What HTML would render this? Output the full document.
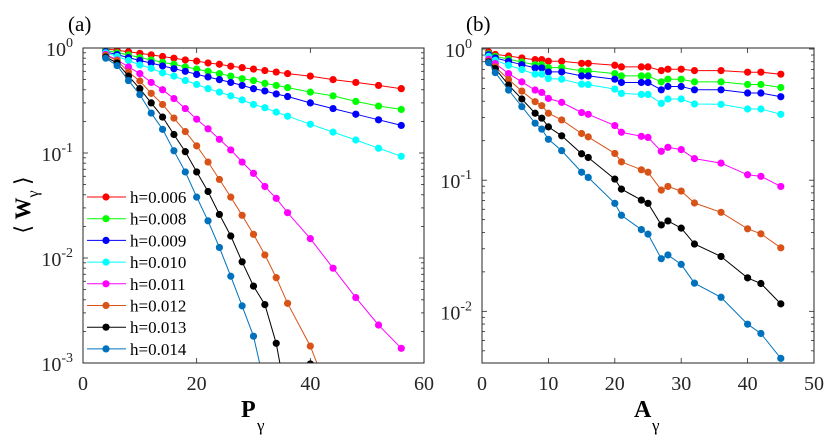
<!DOCTYPE html>
<html><head><meta charset="utf-8"><style>
body{margin:0;background:#fff}
svg{display:block;font-family:"Liberation Serif",serif}
</style></head><body>
<svg id="chart" width="830" height="439" viewBox="0 0 830 439" xmlns="http://www.w3.org/2000/svg"></svg>
<script>
const seriesLabels=["h=0.006","h=0.008","h=0.009","h=0.010","h=0.011","h=0.012","h=0.013","h=0.014"];
const seriesColors=["#ff0000","#00ff00","#0000ff","#00ffff","#ff00ff","#D95319","#000000","#0072BD"];
const xA=[4,6,8,10,12,14,16,18,20,22,24,26,28,30,32,34,36,40,44,48,52,56];
const a0=[0.98,0.95,0.92,0.89,0.86,0.83,0.80,0.77,0.75,0.72,0.70,0.67,0.65,0.63,0.61,0.59,0.57,0.54,0.50,0.47,0.44,0.41];
const a1=[0.95,0.90,0.86,0.81,0.77,0.73,0.70,0.66,0.63,0.60,0.57,0.54,0.51,0.49,0.46,0.44,0.42,0.38,0.35,0.31,0.28,0.26];
const a2=[0.92,0.866,0.81,0.76,0.72,0.675,0.635,0.60,0.56,0.53,0.50,0.47,0.44,0.41,0.39,0.365,0.345,0.30,0.265,0.234,0.207,0.183];
const a3=[0.90,0.83,0.76,0.69,0.64,0.58,0.54,0.49,0.45,0.41,0.38,0.35,0.32,0.29,0.27,0.245,0.224,0.188,0.158,0.133,0.111,0.093];
const a4=[0.87,0.77,0.66,0.57,0.47,0.40,0.33,0.265,0.21,0.17,0.135,0.107,0.082,0.064,0.048,0.037,0.027,0.0153,0.008,0.0042,0.0023,0.00138];
const a5=[0.85,0.76,0.59,0.485,0.37,0.29,0.215,0.16,0.117,0.082,0.056,0.038,0.0255,0.0168,0.0107,0.0065,0.0037,0.00145,0.0004,0.0003,0.0002,0.0002];
const a6=[0.82,0.72,0.54,0.41,0.30,0.22,0.15,0.103,0.066,0.043,0.026,0.0162,0.0092,0.0054,0.0036,0.00154,0.0004,0.00098,0.0002,0.0002,0.0002,0.0002];
const a7=[0.80,0.68,0.49,0.36,0.24,0.168,0.105,0.066,0.038,0.0226,0.0126,0.0067,0.0035,0.0018,0.0006,0.0002,0.0002,0.0002,0.0002,0.0002,0.0002,0.0002];
const xB=[1,2,4,6,8,9,10,12,15,16,20,21,24,25,27,28,30,32,36,40,42,45];
const b0=[0.95,0.91,0.885,0.855,0.83,0.83,0.807,0.807,0.778,0.778,0.752,0.731,0.731,0.731,0.685,0.702,0.702,0.685,0.685,0.666,0.666,0.643];
const b1=[0.922,0.88,0.836,0.797,0.76,0.76,0.722,0.722,0.681,0.681,0.65,0.624,0.624,0.624,0.562,0.589,0.589,0.562,0.562,0.537,0.537,0.509];
const b2=[0.906,0.855,0.807,0.76,0.718,0.718,0.669,0.669,0.624,0.624,0.589,0.556,0.556,0.556,0.489,0.518,0.518,0.489,0.489,0.462,0.462,0.433];
const b3=[0.88,0.821,0.752,0.698,0.643,0.643,0.596,0.589,0.54,0.536,0.495,0.459,0.451,0.451,0.385,0.416,0.416,0.381,0.379,0.349,0.349,0.318];
const b4=[0.836,0.774,0.65,0.562,0.487,0.467,0.42,0.392,0.328,0.318,0.261,0.232,0.216,0.212,0.166,0.178,0.171,0.146,0.135,0.11,0.107,0.0896];
const b5=[0.807,0.731,0.586,0.478,0.397,0.37,0.324,0.288,0.227,0.214,0.16,0.138,0.12,0.115,0.084,0.0896,0.0826,0.067,0.0569,0.0426,0.039,0.0305];
const b6=[0.797,0.709,0.531,0.416,0.324,0.297,0.255,0.218,0.159,0.149,0.102,0.0855,0.0705,0.0666,0.0456,0.0489,0.0431,0.0326,0.0262,0.018,0.0163,0.0114];
const b7=[0.787,0.661,0.487,0.364,0.272,0.245,0.205,0.168,0.115,0.105,0.0666,0.054,0.042,0.0388,0.0252,0.0269,0.0228,0.0164,0.0128,0.00798,0.00678,0.00438];
const xTicksA=[0,20,40,60];
const xTicksB=[0,10,20,30,40,50];

const NS="http://www.w3.org/2000/svg";
const svg=document.getElementById('chart');
function mk(tag,attrs,parent){const e=document.createElementNS(NS,tag);for(const k in attrs)e.setAttribute(k,attrs[k]);(parent||svg).appendChild(e);return e;}

function panel(p){
  const g=mk('g',{});
  
  
  const sx=v=>p.x0+(v-p.xmin)/(p.xmax-p.xmin)*(p.x1-p.x0);
  const sy=v=>p.y0+(p.lmax-Math.log10(v))/(p.lmax-p.lmin)*(p.y1-p.y0);
  const cid='clip'+p.id;
  const cp=mk('clipPath',{id:cid},g);mk('rect',{x:p.x0,y:p.y0,width:p.x1-p.x0,height:p.y1-p.y0},cp);
  // ticks
  const tg=mk('g',{stroke:'#262626','stroke-width':0.8},g);
  p.xticks.forEach(t=>{const x=sx(t);
    mk('line',{x1:x,x2:x,y1:p.y1,y2:p.y1-5},tg);mk('line',{x1:x,x2:x,y1:p.y0,y2:p.y0+5},tg);
    const lb=mk('text',{x:x,y:p.y1+27,'text-anchor':'middle','font-size':20,fill:'#262626',stroke:'none'},g);
    
    
    lb.textContent=t;});
  for(let d=Math.floor(p.lmin);d<=p.lmax;d++){
    for(let m=1;m<10;m++){const v=m*Math.pow(10,d);const l=Math.log10(v);if(l<p.lmin-1e-9||l>p.lmax+1e-9)continue;
      const y=sy(v);const len=m===1?5:3;
      mk('line',{x1:p.x0,x2:p.x0+len,y1:y,y2:y},tg);mk('line',{x1:p.x1,x2:p.x1-len,y1:y,y2:y},tg);
      if(m===1){const lb=mk('text',{x:p.x0-10,y:y+8,'text-anchor':'end','font-size':20,fill:'#262626'},g);
        
        
        lb.textContent='10';const s=mk('tspan',{dy:-9,'font-size':14},lb);s.textContent=String(d);}}
  }
  const dg=mk('g',{'clip-path':'url(#'+cid+')'},g);
  p.series.forEach((ys,i)=>{
    const sg=mk('g',{},dg);
    
    
    const pts=p.xs.map((x,j)=>sx(x).toFixed(1)+','+sy(ys[j]).toFixed(1)).join(' ');
    mk('polyline',{points:pts,fill:'none',stroke:seriesColors[i],'stroke-width':1},sg);
    p.xs.forEach((x,j)=>{const c=mk('circle',{cx:sx(x),cy:sy(ys[j]),r:3.6,fill:seriesColors[i]},sg);
      
      });
  });
  const box=mk('rect',{x:p.x0,y:p.y0,width:p.x1-p.x0,height:p.y1-p.y0,fill:'none',stroke:'#262626','stroke-width':1},g);
  
  
  return {g,sx,sy};
}

const A=panel({id:'a',name:'panel-a',x0:83,x1:424,y0:48,y1:363,xmin:0,xmax:60,lmin:-3,lmax:0,xticks:xTicksA,xs:xA,series:[a0,a1,a2,a3,a4,a5,a6,a7]});
const B=panel({id:'b',name:'panel-b',x0:482,x1:814,y0:48,y1:363,xmin:0,xmax:50,lmin:-2.394,lmax:0.008,xticks:xTicksB,xs:xB,series:[b0,b1,b2,b3,b4,b5,b6,b7]});

// legend
const lg=mk('g',{});


seriesLabels.forEach((s,i)=>{const y=197+i*21.7;
  const e=mk('g',{},lg);
  
  
  mk('line',{x1:87,x2:126,y1:y,y2:y,stroke:seriesColors[i],'stroke-width':1},e);
  mk('circle',{cx:106,cy:y,r:3.6,fill:seriesColors[i]},e);
  const t=mk('text',{x:130,y:y+6,'font-size':17,fill:'#000'},e);t.textContent=s;});

// labels
function txt(x,y,s,size,name,extra){const t=mk('text',Object.assign({x:x,y:y,'font-size':size,fill:'#000'},extra||{}));
  
  
  t.textContent=s;return t;}
txt(68,31,'(a)',21,'panel-a-label');
txt(466,31,'(b)',21,'panel-b-label');
const xla=txt(241,417,'P',24,'x-axis-title-a',{'font-weight':'bold'});
txt(257,431,'γ',17,'x-axis-subscript-a');
txt(634,417,'A',24,'x-axis-title-b',{'font-weight':'bold'});
txt(652,431,'γ',17,'x-axis-subscript-b');
const yl=mk('g',{transform:'translate(30,205) rotate(-90)'});


const yt=mk('text',{x:0,y:0,'text-anchor':'middle','font-size':22,fill:'#000'},yl);
yt.textContent='⟨ ';
const w=mk('tspan',{'font-weight':'bold'},yt);w.textContent='W';
const gs=mk('tspan',{dy:8,'font-size':16},yt);gs.textContent='γ';
const rb=mk('tspan',{dy:-8},yt);rb.textContent=' ⟩';
</script>
</body></html>
